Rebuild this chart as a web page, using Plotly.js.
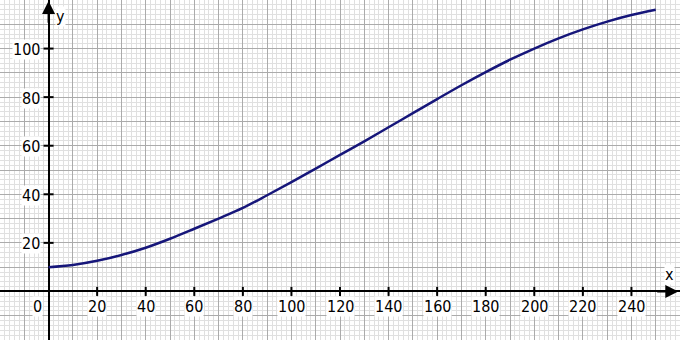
<!DOCTYPE html>
<html>
<head>
<meta charset="utf-8">
<script src="https://cdn.plot.ly/plotly-3.0.1.min.js"></script>
<style>html,body{margin:0;padding:0;background:#fff;}#chart{width:680px;height:340px;}</style>
</head>
<body>
<div id="chart"></div>
<script>
// Data
const xValues = [0,10,20,30,40,50,60,70,80,90,100,110,120,130,140,150,160,170,180,190,200,210,220,230,240,250];
const yValues = [10,10.9,12.6,15,18,21.7,25.8,30,34.4,39.6,45,50.6,56.2,61.8,67.6,73.4,79.2,84.9,90.3,95.4,100,104.2,107.9,111.1,113.8,116];
const xTicks = [20,40,60,80,100,120,140,160,180,200,220,240];
const yTicks = [20,40,60,80,100];
const xTickLabels = xTicks.map(String);
const yTickLabels = yTicks.map(String);
const originLabel = '0';
const xAxisName = 'x';
const yAxisName = 'y';

function mkFont() { return {family: 'DejaVu Sans Condensed, DejaVu Sans', size: 16, color: '#000'}; }

const trace = {
  x: xValues, y: yValues, type: 'scatter', mode: 'lines',
  line: {color: '#16167a', width: 2.5, shape: 'spline', smoothing: 1},
  hoverinfo: 'skip'
};

const shapes = [];
xTicks.forEach(t => shapes.push({type:'line', xref:'x', yref:'y', x0:t, x1:t, ysizemode:'pixel', yanchor:0, y0:-4.5, y1:4.5, line:{color:'#000', width:2}}));
yTicks.forEach(t => shapes.push({type:'line', xref:'x', yref:'y', y0:t, y1:t, xsizemode:'pixel', xanchor:0, x0:-5, x1:5, line:{color:'#000', width:2}}));

const annotations = [];
xTicks.forEach((t,i) => annotations.push({x:t, y:0, xref:'x', yref:'y', text:xTickLabels[i], showarrow:false, xanchor:'center', yanchor:'top', yshift:-5, font:mkFont(), bgcolor:'#fff', borderpad:0}));
yTicks.forEach((t,i) => annotations.push({x:0, y:t, xref:'x', yref:'y', text:yTickLabels[i], showarrow:false, xanchor:'right', yanchor:'middle', xshift:-8, yshift:-1, font:mkFont(), bgcolor:'#fff', borderpad:0}));
annotations.push({x:0, y:0, xref:'x', yref:'y', text:originLabel, showarrow:false, xanchor:'right', yanchor:'top', xshift:-6, yshift:-5, font:mkFont(), bgcolor:'#fff', borderpad:0});
annotations.push({x:255.7, y:7.1, xref:'x', yref:'y', text:xAxisName, showarrow:false, font:mkFont(), bgcolor:'#fff', borderpad:0});
annotations.push({x:5.1, y:113.4, xref:'x', yref:'y', text:yAxisName, showarrow:false, font:mkFont(), bgcolor:'#fff', borderpad:0});
// axis arrows
annotations.push({x:259.3, y:0, ax:250, ay:0, xref:'x', yref:'y', axref:'x', ayref:'y', text:'', showarrow:true, arrowhead:2, arrowsize:1.3, arrowwidth:2, arrowcolor:'#000'});
annotations.push({x:0, y:119.6, ax:0, ay:110, xref:'x', yref:'y', axref:'x', ayref:'y', text:'', showarrow:true, arrowhead:2, arrowsize:1.3, arrowwidth:2, arrowcolor:'#000'});

const layout = {
  width: 680, height: 340,
  margin: {l:0, r:0, t:0, b:0, pad:0},
  paper_bgcolor: '#fff', plot_bgcolor: '#fff',
  showlegend: false,
  font: {family: 'DejaVu Sans', size: 15},
  xaxis: {range:[-20,260], dtick:10, tick0:0, showgrid:true, gridcolor:'#ababab', gridwidth:1,
          minor:{dtick:2, tick0:0, showgrid:true, gridcolor:'#e0e0e0', gridwidth:1},
          showticklabels:false, ticks:'', zeroline:true, zerolinecolor:'#000', zerolinewidth:2, showline:false, fixedrange:true},
  yaxis: {range:[-20,120], dtick:10, tick0:0, showgrid:true, gridcolor:'#ababab', gridwidth:1,
          minor:{dtick:2, tick0:0, showgrid:true, gridcolor:'#e0e0e0', gridwidth:1},
          showticklabels:false, ticks:'', zeroline:true, zerolinecolor:'#000', zerolinewidth:2, showline:false, fixedrange:true},
  shapes: shapes,
  annotations: annotations
};

Plotly.newPlot('chart', [trace], layout, {displayModeBar:false, staticPlot:true});
</script>
</body>
</html>
